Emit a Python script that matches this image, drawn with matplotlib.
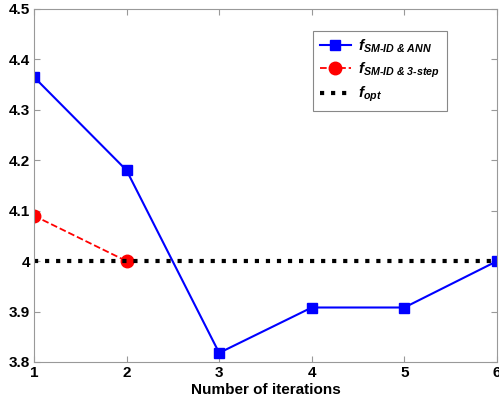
import matplotlib
matplotlib.use('Agg')
import matplotlib.pyplot as plt

iteracoes = [1, 2, 3, 4, 5, 6]
f_ann = [4.365, 4.18, 3.818, 3.908, 3.908, 4.0]
iter_3step = [1, 2]
f_3step = [4.09, 4.0]
f_opt = 4.0

plt.rcParams['font.family'] = 'Liberation Sans'
plt.rcParams['mathtext.fontset'] = 'custom'
plt.rcParams['mathtext.it'] = 'Liberation Sans:italic:bold'
plt.rcParams['mathtext.rm'] = 'Liberation Sans:italic:bold'

fig = plt.figure(figsize=(4.99, 4.04), dpi=100)
ax = fig.add_axes([0.068, 0.104, 0.928, 0.874])

ax.plot(iteracoes, f_ann, color='blue', linewidth=1.5, marker='s', markersize=7,
        label=r'$f_{\text{SM-ID & ANN}}$')
ax.plot(iter_3step, f_3step, color='red', linewidth=1.3, linestyle='--', marker='o',
        markersize=9, label=r'$f_{\text{SM-ID & 3-step}}$')
ax.axhline(y=f_opt, color='black', linestyle=':', linewidth=3, label=r'$f_{opt}$')

ax.set_xlim(1, 6)
ax.set_ylim(3.8, 4.5)
ax.set_xticks(iteracoes)
ax.set_yticks([3.8, 3.9, 4.0, 4.1, 4.2, 4.3, 4.4, 4.5])
ax.set_yticklabels(['3.8', '3.9', '4', '4.1', '4.2', '4.3', '4.4', '4.5'])
ax.tick_params(direction='in', top=True, right=True, length=4, color='#999999',
               labelsize=11, pad=3)
for lbl in ax.get_xticklabels() + ax.get_yticklabels():
    lbl.set_fontweight('bold')
for s in ax.spines.values():
    s.set_color('#999999')
ax.set_xlabel('Number of iterations', fontsize=11, fontweight='bold', labelpad=2)

leg = ax.legend(loc='upper left', bbox_to_anchor=(0.603, 0.938), fontsize=11,
                fancybox=False, framealpha=1, edgecolor='#888888',
                handlelength=2.0, handletextpad=0.5, borderpad=0.45,
                labelspacing=0.35, borderaxespad=0)
leg.get_frame().set_linewidth(0.8)

fig.savefig('out.png', dpi=100)
